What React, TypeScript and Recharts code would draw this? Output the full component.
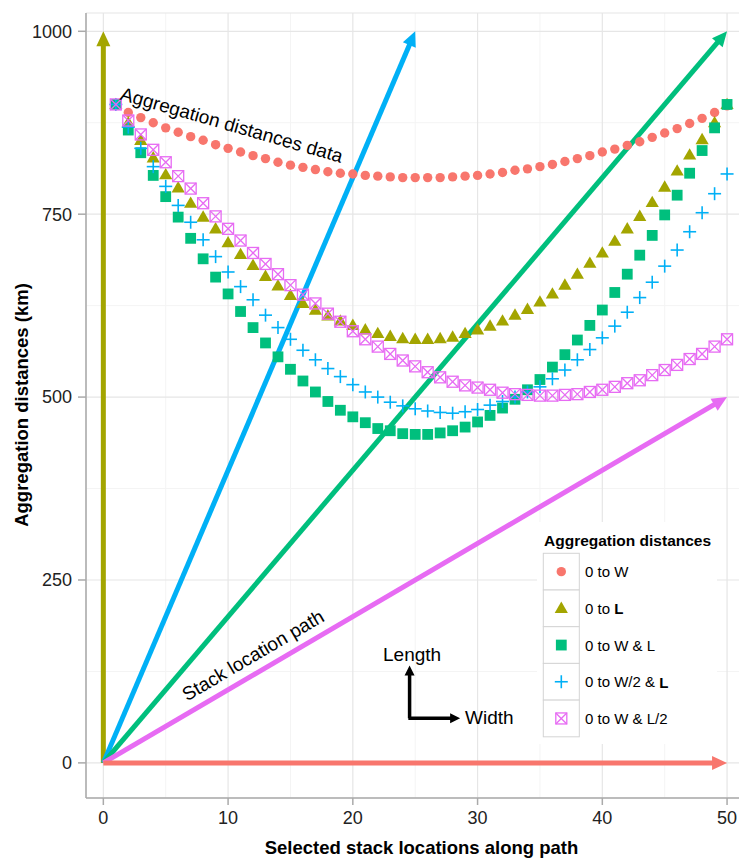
import {
  CartesianGrid,
  Legend,
  ReferenceDot,
  ReferenceLine,
  Scatter,
  ScatterChart,
  XAxis,
  YAxis,
} from "recharts";

const stackLocations = [
  1, 2, 3, 4, 5, 6, 7, 8, 9, 10, 11, 12, 13, 14, 15, 16, 17, 18, 19, 20, 21, 22, 23, 24, 25,
  26, 27, 28, 29, 30, 31, 32, 33, 34, 35, 36, 37, 38, 39, 40, 41, 42, 43, 44, 45, 46, 47, 48, 49, 50,
];

// aggregation distances (km) per selected stack location
const toW = [
  900, 889, 882, 875, 868, 862, 856, 851, 845, 840, 835, 830, 826, 821, 817, 814, 811, 808, 806, 805,
  803, 802, 801, 800, 800, 800, 800, 801, 802, 803, 805, 807, 810, 812, 815, 818, 822, 826, 830, 835,
  839, 844, 849, 855, 861, 867, 874, 881, 889, 898,
];
const toL = [
  900, 875, 851, 827, 804, 786, 765, 746, 730, 711, 695, 680, 665, 652, 639, 628, 619, 611, 604, 598,
  592, 587, 583, 580, 579, 579, 580, 582, 587, 592, 597, 604, 612, 620, 630, 641, 653, 668, 683, 697,
  713, 730, 747, 766, 787, 809, 831, 852, 875, 900,
];
const toWL = [
  900, 865, 834, 803, 774, 746, 717, 689, 664, 641, 617, 595, 574, 555, 538, 522, 507, 494, 482, 473,
  465, 457, 454, 450, 449, 449, 451, 454, 459, 466, 475, 485, 497, 510, 524, 541, 558, 578, 598, 619,
  643, 668, 694, 721, 749, 776, 806, 837, 868, 900,
];
const toHalfWL = [
  900, 869, 840, 815, 788, 762, 739, 715, 692, 671, 651, 633, 612, 595, 579, 564, 551, 539, 528, 517,
  507, 500, 493, 488, 484, 481, 479, 478, 480, 483, 489, 494, 500, 507, 514, 525, 537, 551, 565, 581,
  597, 616, 636, 657, 679, 701, 726, 752, 778, 805,
];
const toWHalfL = [
  900, 878, 859, 838, 821, 802, 785, 765, 747, 730, 714, 697, 682, 668, 653, 640, 628, 614, 603, 590,
  579, 569, 559, 550, 542, 534, 527, 521, 516, 513, 510, 506, 504, 503, 502, 502, 503, 504, 507, 510,
  514, 519, 523, 530, 537, 544, 552, 559, 569, 579,
];

const seriesNames = ["0 to W", "0 to L", "0 to W & L", "0 to W/2 & L", "0 to W & L/2"];
const boldL = [false, true, false, true, false];
const colors = ["#F8766D", "#A3A500", "#00BF7D", "#00B0F6", "#E76BF3"];

const xTicks = [0, 10, 20, 30, 40, 50];
const yTicks = [0, 250, 500, 750, 1000];

// arrows from the origin: end points in data units
const pathArrows = [
  { color: "#A3A500", x: 0, y: 1000 },
  { color: "#00B0F6", x: 25, y: 1000 },
  { color: "#00BF7D", x: 50, y: 1000 },
  { color: "#E76BF3", x: 50, y: 500 },
  { color: "#F8766D", x: 50, y: 0 },
];

const FONT = "'Liberation Sans', Arial, Helvetica, sans-serif";

const toPoints = (values: number[]) => values.map((y, i) => ({ x: stackLocations[i], y }));

const Dot = (p: any) => <circle cx={p.cx} cy={p.cy} r={4.7} fill={colors[0]} />;
const Tri = (p: any) => (
  <polygon
    points={`${p.cx},${p.cy - 6.8} ${p.cx - 6.6},${p.cy + 4.6} ${p.cx + 6.6},${p.cy + 4.6}`}
    fill={colors[1]}
  />
);
const Sq = (p: any) => <rect x={p.cx - 5.4} y={p.cy - 5.4} width={10.8} height={10.8} fill={colors[2]} />;
const Plus = (p: any) => (
  <g stroke={colors[3]} strokeWidth={1.6}>
    <line x1={p.cx - 6.5} y1={p.cy} x2={p.cx + 6.5} y2={p.cy} />
    <line x1={p.cx} y1={p.cy - 6.5} x2={p.cx} y2={p.cy + 6.5} />
  </g>
);
const BoxX = (p: any) => (
  <g stroke={colors[4]} strokeWidth={1.3} fill="none">
    <rect x={p.cx - 5.5} y={p.cy - 5.5} width={11} height={11} />
    <line x1={p.cx - 5.5} y1={p.cy - 5.5} x2={p.cx + 5.5} y2={p.cy + 5.5} />
    <line x1={p.cx - 5.5} y1={p.cy + 5.5} x2={p.cx + 5.5} y2={p.cy - 5.5} />
  </g>
);
const shapes = [Dot, Tri, Sq, Plus, BoxX];
const seriesData = [toW, toL, toWL, toHalfWL, toWHalfL];

const arrow = (color: string, width: number, head: number, half: number) => (p: any) => {
  const { x1, y1, x2, y2 } = p;
  if (x1 == null || x2 == null) return <g />;
  const dx = x2 - x1;
  const dy = y2 - y1;
  const len = Math.hypot(dx, dy) || 1;
  const ux = dx / len;
  const uy = dy / len;
  const bx = x2 - ux * head;
  const by = y2 - uy * head;
  return (
    <g>
      <line x1={x1} y1={y1} x2={bx + ux} y2={by + uy} stroke={color} strokeWidth={width} />
      <polygon
        points={`${x2},${y2} ${bx - uy * half},${by + ux * half} ${bx + uy * half},${by - ux * half}`}
        fill={color}
      />
    </g>
  );
};

const label = (text: string, angle: number, anchor: string = "middle") => (p: any) => (
  <text
    x={p.cx}
    y={p.cy}
    transform={`rotate(${angle} ${p.cx} ${p.cy})`}
    textAnchor={anchor}
    dominantBaseline="central"
    fontFamily={FONT}
    fontSize={19}
    fill="#000"
  >
    {text}
  </text>
);

const renderLegend = () => (
  <svg width={180} height={222} style={{ display: "block" }}>
    <rect width={180} height={222} fill="#fff" />
    <text x={7} y={18} dominantBaseline="central" fontFamily={FONT} fontWeight="bold" fontSize={15.5} fill="#000">
      Aggregation distances
    </text>
    {seriesNames.map((name, i) => {
      const top = 31.3 + i * 36.7;
      const cx = 6.3 + 18;
      const cy = top + 18.35;
      const Shape = shapes[i];
      const head = boldL[i] ? name.slice(0, -1) : name;
      return (
        <g key={name}>
          <rect x={6.3} y={top} width={36} height={36.7} fill="#fff" stroke="#d4d4d4" strokeWidth={1} />
          <Shape cx={cx} cy={cy} />
          <text x={48} y={cy} dominantBaseline="central" fontFamily={FONT} fontSize={15} fill="#000">
            {head}
            {boldL[i] && <tspan fontWeight="bold">L</tspan>}
          </text>
        </g>
      );
    })}
  </svg>
);

export default function App() {
  return (
    <div style={{ position: "absolute", left: 0, top: 0, width: 739, height: 858, overflow: "hidden", background: "#fff" }}>
      <ScatterChart width={757} height={858} margin={{ top: 13, right: 0, bottom: 0, left: 0 }}>
        <CartesianGrid
          stroke="#f4f4f4"
          strokeWidth={1}
          verticalValues={[5, 15, 25, 35, 45]}
          horizontalValues={[125, 375, 625, 875]}
        />
        <CartesianGrid stroke="#e6e6e6" strokeWidth={1.2} />
        <XAxis
          type="number"
          dataKey="x"
          domain={[-1.39, 52.4]}
          ticks={xTicks}
          allowDataOverflow
          height={60}
          stroke="#aaaaaa"
          strokeWidth={1.5}
          tickSize={7}
          tickMargin={6}
          tick={{ fill: "#222", fontSize: 18, fontFamily: FONT }}
          label={(p: any) => (
            <text
              x={p.viewBox.x + p.viewBox.width / 2}
              y={847}
              textAnchor="middle"
              dominantBaseline="central"
              fontFamily={FONT}
              fontWeight="bold"
              fontSize={18.5}
              fill="#000"
            >
              Selected stack locations along path
            </text>
          )}
        />
        <YAxis
          type="number"
          dataKey="y"
          domain={[-48, 1025]}
          ticks={yTicks}
          allowDataOverflow
          width={86}
          stroke="#aaaaaa"
          strokeWidth={1.5}
          tickSize={8}
          tickMargin={6}
          tick={{ fill: "#222", fontSize: 18, fontFamily: FONT }}
          label={(p: any) => (
            <text
              x={21}
              y={405}
              transform="rotate(-90 21 405)"
              textAnchor="middle"
              dominantBaseline="central"
              fontFamily={FONT}
              fontWeight="bold"
              fontSize={18.5}
              fill="#000"
            >
              Aggregation distances (km)
            </text>
          )}
        />
        {seriesNames.map((name, i) => (
          <Scatter
            key={name}
            name={name}
            data={toPoints(seriesData[i])}
            fill={colors[i]}
            shape={shapes[i]}
            isAnimationActive={false}
          />
        ))}
        {pathArrows.map((a) => (
          <ReferenceLine
            key={a.color}
            segment={[{ x: 0, y: 0 }, { x: a.x, y: a.y }]}
            ifOverflow="visible"
            shape={arrow(a.color, 5, 15, 7)}
          />
        ))}
        <ReferenceLine
          segment={[{ x: 24.55, y: 61 }, { x: 24.55, y: 133 }]}
          ifOverflow="visible"
          shape={arrow("#000", 3.5, 10, 5)}
        />
        <ReferenceLine
          segment={[{ x: 24.45, y: 61 }, { x: 28.6, y: 61 }]}
          ifOverflow="visible"
          shape={arrow("#000", 3.5, 10, 5)}
        />
        <ReferenceDot x={10.3} y={872} r={0} ifOverflow="visible" shape={label("Aggregation distances data", 16)} />
        <ReferenceDot x={12} y={147} r={0} ifOverflow="visible" shape={label("Stack location path", -30.4)} />
        <ReferenceDot x={24.75} y={148} r={0} ifOverflow="visible" shape={label("Length", 0)} />
        <ReferenceDot x={29} y={61.5} r={0} ifOverflow="visible" shape={label("Width", 0, "start")} />
        <Legend
          layout="horizontal"
          verticalAlign="middle"
          align="center"
          content={renderLegend}
          wrapperStyle={{ left: 537, top: 522, width: 180, height: 222 }}
        />
      </ScatterChart>
    </div>
  );
}
